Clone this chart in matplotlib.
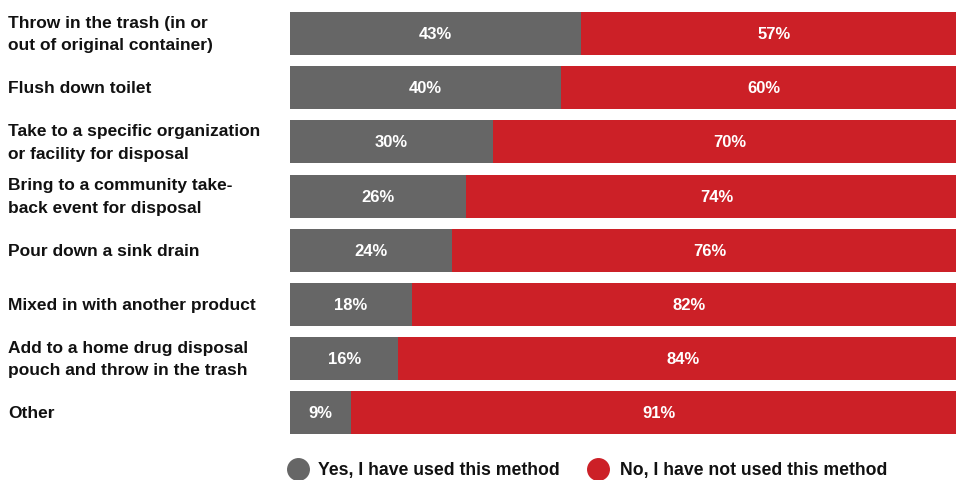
import numpy as np
import matplotlib.pyplot as plt
from matplotlib.lines import Line2D
from matplotlib.transforms import blended_transform_factory

plt.rcParams['font.family'] = ['Liberation Sans', 'DejaVu Sans']

# data
methods = [
    'Throw in the trash (in or\nout of original container)',
    'Flush down toilet',
    'Take to a specific organization\nor facility for disposal',
    'Bring to a community take-\nback event for disposal',
    'Pour down a sink drain',
    'Mixed in with another product',
    'Add to a home drug disposal\npouch and throw in the trash',
    'Other',
]
yes_used = [43, 40, 30, 26, 24, 18, 16, 9]
not_used = [57, 60, 70, 74, 76, 82, 84, 91]
legend_labels = ['Yes, I have used this method', 'No, I have not used this method']

gray = '#666666'
red = '#cc2027'

W, H = 956, 481
fig = plt.figure(figsize=(W / 100, H / 100), dpi=100)
# bar area runs past the right edge of the picture (cropped in the original)
ax = fig.add_axes([290 / W, 1 - 441 / H, 677 / W, 433.6 / H])

y = np.arange(len(methods))
h = 0.795
ax.barh(y, yes_used, height=h, color=gray)
ax.barh(y, not_used, left=yes_used, height=h, color=red)

label_tr = blended_transform_factory(fig.transFigure, ax.transData)
for i in range(len(methods)):
    ax.text(yes_used[i] / 2, y[i], f'{yes_used[i]}%', ha='center', va='center',
            color='white', fontsize=12, fontweight='bold')
    ax.text(yes_used[i] + not_used[i] / 2, y[i], f'{not_used[i]}%', ha='center',
            va='center', color='white', fontsize=12, fontweight='bold')
    fig.text(8 / W, y[i], methods[i], ha='left', va='center', transform=label_tr,
             fontsize=12.5, fontweight='bold', color='#111111', linespacing=1.62)

ax.set_xlim(0, 100)
ax.set_ylim(len(methods) - 0.5, -0.5)
ax.axis('off')

# legend
for col, lab, xc, xt in [(gray, legend_labels[0], 298, 318),
                         (red, legend_labels[1], 598, 620)]:
    fig.add_artist(Line2D([xc / W], [1 - 470 / H], marker='o', markersize=15.5,
                          color=col, linestyle='none', transform=fig.transFigure))
    fig.text(xt / W, 1 - 471 / H, lab, ha='left', va='center', fontsize=12.7,
             fontweight='bold', color='#111111')

plt.savefig('out.png', dpi=100)
